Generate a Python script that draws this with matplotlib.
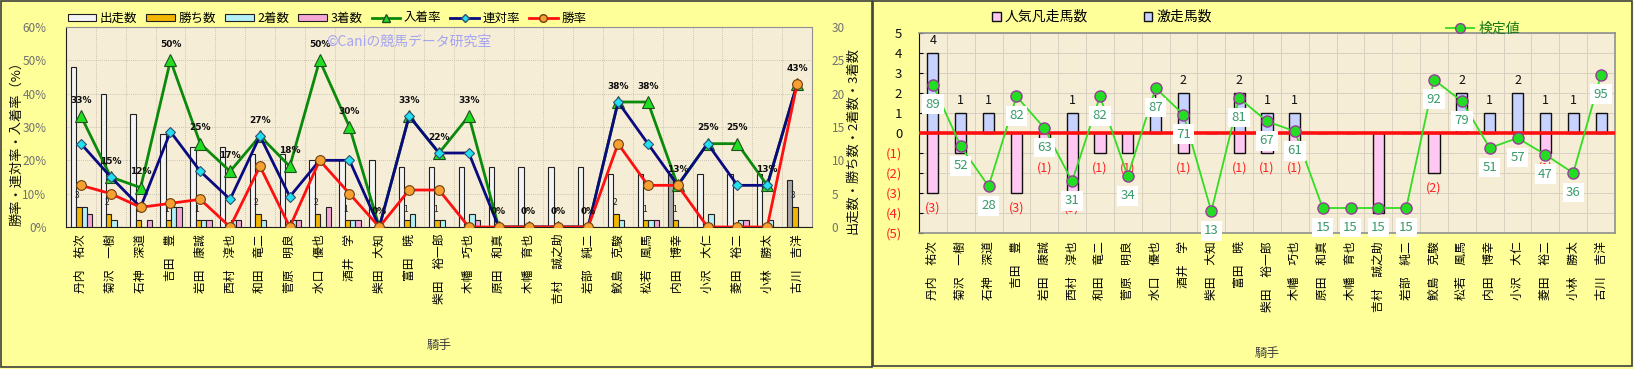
import matplotlib
matplotlib.use("Agg")
import matplotlib.pyplot as plt
from matplotlib.patches import Rectangle, Patch
from matplotlib.lines import Line2D
import numpy as np

plt.rcParams['font.family'] = ['Noto Sans CJK JP', 'DejaVu Sans']

# ---------------- data ----------------
jockeys = ["丹内　祐次", "菊沢　一樹", "石神　深道", "吉田　豊", "岩田　康誠", "西村　淳也",
           "和田　竜二", "菅原　明良", "水口　優也", "酒井　学", "柴田　大知", "富田　暁",
           "柴田　裕一郎", "木幡　巧也", "原田　和真", "木幡　育也", "吉村　誠之助", "岩部　純二",
           "鮫島　克駿", "松若　風馬", "内田　博幸", "小沢　大仁", "菱田　裕二", "小林　勝太",
           "古川　吉洋"]

runs    = [24, 20, 17, 14, 12, 12, 11, 11, 10, 10, 10, 9, 9, 9, 9, 9, 9, 9, 8, 8, 8, 8, 8, 8, 7]
wins    = [3, 2, 1, 1, 1, 0, 2, 0, 2, 1, 0, 1, 1, 0, 0, 0, 0, 0, 2, 1, 1, 0, 0, 0, 3]
seconds = [3, 1, 0, 3, 1, 1, 1, 1, 0, 1, 0, 2, 1, 2, 0, 0, 0, 0, 1, 1, 0, 2, 1, 1, 0]
thirds  = [2, 0, 1, 3, 1, 1, 0, 1, 3, 1, 0, 0, 0, 1, 0, 0, 0, 0, 0, 1, 0, 0, 1, 0, 0]
runs_highlight = [False]*20 + [True] + [False]*3 + [True]

win_rate  = [12.5, 10.0, 5.9, 7.1, 8.3, 0, 18.2, 0, 20.0, 10.0, 0, 11.1, 11.1, 0, 0, 0, 0, 0,
             25.0, 12.5, 12.5, 0, 0, 0, 42.9]
rentai    = [25.0, 15.0, 5.9, 28.6, 16.7, 8.3, 27.3, 9.1, 20.0, 20.0, 0, 33.3, 22.2, 22.2, 0, 0, 0, 0,
             37.5, 25.0, 12.5, 25.0, 12.5, 12.5, 42.9]
nyuchaku  = [33.3, 15.0, 11.8, 50.0, 25.0, 16.7, 27.3, 18.2, 50.0, 30.0, 0, 33.3, 22.2, 33.3, 0, 0, 0, 0,
             37.5, 37.5, 12.5, 25.0, 25.0, 12.5, 42.9]

gekiso = [4, 1, 1, 0, 0, 1, 0, 0, 1, 2, 0, 2, 1, 1, 0, 0, 0, 0, 0, 2, 1, 2, 1, 1, 1]
bonso  = [3, 1, 0, 3, 1, 3, 1, 1, 0, 1, 0, 1, 1, 1, 0, 0, 4, 0, 2, 0, 0, 0, 1, 0, 0]
kentei = [89, 52, 28, 82, 63, 31, 82, 34, 87, 71, 13, 81, 67, 61, 15, 15, 15, 15, 92, 79, 51, 57, 47, 36, 95]

left_pct_ticks = [0, 10, 20, 30, 40, 50, 60]
left_cnt_ticks = [0, 5, 10, 15, 20, 25, 30]
right_ticks = [-5, -4, -3, -2, -1, 0, 1, 2, 3, 4, 5]

# ---------------- figure ----------------
W, H = 1634, 369
fig = plt.figure(figsize=(W/100, H/100), dpi=100, facecolor='#FFFF99')

def fx(px): return px / W
def fy(py): return 1 - py / H

# panel borders
fig.add_artist(Rectangle((fx(1), fy(367)), fx(871), (366)/H, fill=False, ec='#404040', lw=1.2,
                         transform=fig.transFigure))
fig.add_artist(Rectangle((fx(873), fy(366)), fx(759), (365)/H, fill=False, ec='#404040', lw=1.2,
                         transform=fig.transFigure))

PLOT_BG = '#F6EDD6'
GRID_C = '#BDB5A5'
n = len(jockeys)
x = np.arange(n)

# ---------------- left chart ----------------
axb = fig.add_axes([fx(66), fy(227), fx(812 - 66), 200 / H])
axb.set_facecolor(PLOT_BG)
axl = axb.twinx()   # line axis (percent), drawn above the bars

bw = 0.18
offs = [-0.25, -0.07, 0.11, 0.29]
run_colors = ['#A9A9A9' if h else '#F4F4F4' for h in runs_highlight]
axb.bar(x + offs[0], runs, bw, color=run_colors, edgecolor='#202020', lw=0.8, zorder=3)
axb.bar(x + offs[1], wins, bw, color='#F2B600', edgecolor='#202020', lw=0.8, zorder=3)
axb.bar(x + offs[2], seconds, bw, color='#B4F0F8', edgecolor='#202020', lw=0.8, zorder=3)
axb.bar(x + offs[3], thirds, bw, color='#F4A6D4', edgecolor='#202020', lw=0.8, zorder=3)
for i, w in enumerate(wins):
    if w > 0:
        axb.annotate(str(w), (x[i] + offs[1], w), xytext=(-1, 8), textcoords='offset points',
                     ha='center', va='center', fontsize=6, color='#202020', zorder=4)
axb.set_xlim(-0.5, n - 0.5)
axb.set_ylim(0, 30)
axb.set_yticks(left_cnt_ticks)
axb.yaxis.tick_right()
axb.tick_params(axis='y', which='both', left=False, labelleft=False, right=True, labelright=True,
                length=0, labelsize=8.5, labelcolor='#707070', pad=14)
axb.set_xticks(x)
axb.set_xticklabels(jockeys, rotation=90, fontsize=8.5)
axb.tick_params(axis='x', length=0, pad=5)
axb.set_xticks(np.arange(-0.5, n, 1), minor=True)
axb.tick_params(axis='x', which='minor', length=0)
axb.grid(True, which='minor', axis='x', color=GRID_C, lw=0.6, ls=(0, (1, 1.5)), zorder=0)
axb.grid(True, which='major', axis='y', color=GRID_C, lw=0.6, ls=(0, (1, 1.5)), zorder=0)
axb.set_axisbelow(True)
for s in ['top', 'right']:
    axb.spines[s].set_color('#909090')
axb.spines['left'].set_color('#202020')
axb.spines['bottom'].set_color('#202020')

axl.set_ylim(0, 60)
axl.set_yticks(left_pct_ticks)
axl.set_yticklabels([f"{t}%" for t in left_pct_ticks])
axl.yaxis.tick_left()
axl.tick_params(axis='y', which='both', right=False, labelright=False, left=True, labelleft=True,
                length=0, labelsize=8.5, labelcolor='#707070', pad=14)
for s in axl.spines.values():
    s.set_visible(False)
axl.plot(x, nyuchaku, color='#0A8A0A', lw=2, marker='^', ms=8, mfc='#22DD22', mec='#205020',
         mew=0.8, zorder=3)
axl.plot(x, rentai, color='#0A0A80', lw=2, marker='D', ms=5.5, mfc='#22E0F0', mec='#305070',
         mew=0.8, zorder=4)
axl.plot(x, win_rate, color='#FF1010', lw=2, marker='o', ms=7, mfc='#F5A030', mec='#704010',
         mew=0.8, zorder=5)
for i, v in enumerate(nyuchaku):
    axl.annotate(f"{int(v + 0.5)}%", (x[i], v), xytext=(0, 11.5), textcoords='offset points',
                 ha='center', va='center', fontsize=6.5, fontweight='bold', color='#101010',
                 family=['DejaVu Sans'], zorder=6)

fig.text(fx(326), fy(42), "©Caniの競馬データ研究室", color='#A4A4F2', fontsize=10,
         ha='left', va='center')
fig.text(fx(17), fy(140), "勝率・連対率・入着率（%）", rotation=90, ha='center', va='center',
         fontsize=9.5, color='#101010')
fig.text(fx(853), fy(140), "出走数・勝ち数・2着数・3着数", rotation=90, ha='center', va='center',
         fontsize=9.5, color='#101010')
fig.text(fx(439), fy(346), "騎手", ha='center', va='center', fontsize=9, color='#404040')

lh = [Patch(facecolor='#F4F4F4', edgecolor='#202020', lw=0.8, label='出走数'),
      Patch(facecolor='#F2B600', edgecolor='#202020', lw=0.8, label='勝ち数'),
      Patch(facecolor='#B4F0F8', edgecolor='#202020', lw=0.8, label='2着数'),
      Patch(facecolor='#F4A6D4', edgecolor='#202020', lw=0.8, label='3着数'),
      Line2D([], [], color='#0A8A0A', lw=2, marker='^', ms=6, mfc='#22DD22', mec='#205020', label='入着率'),
      Line2D([], [], color='#0A0A80', lw=2, marker='D', ms=4.5, mfc='#22E0F0', mec='#305070', label='連対率'),
      Line2D([], [], color='#FF1010', lw=2, marker='o', ms=5.5, mfc='#F5A030', mec='#704010', label='勝率')]
fig.legend(handles=lh, loc='center', bbox_to_anchor=(fx(327), fy(18)), ncol=7, frameon=False,
           fontsize=9, handlelength=2.3, handleheight=0.5, handletextpad=0.3, columnspacing=0.7,
           borderpad=0)

# ---------------- right chart ----------------
ax2 = fig.add_axes([fx(919), fy(233), fx(1615 - 919), 200 / H])
ax2.set_facecolor(PLOT_BG)
ax2.bar(x, gekiso, 0.4, color='#C8D2FF', edgecolor='#101010', lw=1.0, zorder=3)
ax2.bar(x, [-b for b in bonso], 0.4, color='#FFC8F2', edgecolor='#101010', lw=1.0, zorder=3)
ax2.axhline(0, color='#FF1010', lw=2.6, zorder=4)
for i in range(n):
    if gekiso[i] > 0:
        ax2.annotate(str(gekiso[i]), (x[i], gekiso[i]), xytext=(0, 9), textcoords='offset points',
                     ha='center', va='center', fontsize=9, color='#101010', zorder=5)
    if bonso[i] > 0:
        ax2.annotate(f"({bonso[i]})", (x[i], -bonso[i]), xytext=(0, -11), textcoords='offset points',
                     ha='center', va='center', fontsize=9, color='#FF2020', zorder=5)
ax2.set_xlim(-0.5, n - 0.5)
ax2.set_ylim(-5, 5)
ax2.set_yticks(right_ticks)
ax2.set_yticklabels([str(t) if t >= 0 else f"({-t})" for t in right_ticks])
for lab, t in zip(ax2.get_yticklabels(), right_ticks):
    lab.set_color('#FF2020' if t < 0 else '#101010')
ax2.set_xticks(x)
ax2.set_xticklabels(jockeys, rotation=90, fontsize=8.5)
ax2.tick_params(axis='x', length=0, pad=6)
ax2.set_xticks(np.arange(-0.5, n, 1), minor=True)
ax2.tick_params(axis='x', which='minor', length=0)
ax2.grid(True, which='minor', axis='x', color='#D8D0C0', lw=0.7, zorder=0)
ax2.grid(True, which='major', axis='y', color='#D8D0C0', lw=0.7, zorder=0)
ax2.set_axisbelow(True)
for s in ['top', 'right', 'bottom']:
    ax2.spines[s].set_color('#909090')
    ax2.spines[s].set_linewidth(1.2)
ax2.spines['left'].set_color('#101010')

ax3 = ax2.twinx()
ax3.set_ylim(0, 120)
ax3.set_yticks([])
for s in ax3.spines.values():
    s.set_visible(False)
ax2.yaxis.tick_left()
ax2.tick_params(axis='y', length=3, direction='in', labelsize=9.5, pad=12)
ax3.plot(x, kentei, color='#33DD22', lw=1.3, marker='o', ms=8, mfc='#22DD22', mec='#9A3A9A',
         mew=1.0, zorder=3)
for i, v in enumerate(kentei):
    ax3.annotate(str(v), (x[i], v), xytext=(0, -14), textcoords='offset points', ha='center',
                 va='center', fontsize=9.5, color='#3A9A6A', zorder=4,
                 bbox=dict(boxstyle='square,pad=0.25', fc='white', ec='none'))

fig.text(fx(1267), fy(353), "騎手", ha='center', va='center', fontsize=9, color='#404040')

rh = [Patch(facecolor='#FFC8F2', edgecolor='#101010', lw=1.0, label='人気凡走馬数'),
      Patch(facecolor='#C8D2FF', edgecolor='#101010', lw=1.0, label='激走馬数')]
fig.legend(handles=rh, loc='center', bbox_to_anchor=(fx(1102), fy(17)), ncol=2, frameon=False,
           fontsize=10, handlelength=0.6, handleheight=0.6, handletextpad=0.3, columnspacing=4.0,
           borderpad=0)
kh = [Line2D([], [], color='#33DD22', lw=1.3, marker='o', ms=7, mfc='#22DD22', mec='#9A3A9A',
             label='検定値')]
leg3 = fig.legend(handles=kh, loc='center', bbox_to_anchor=(fx(1483), fy(29)), frameon=False,
                  fontsize=10, handlelength=2.0, handletextpad=0.3, borderpad=0)
for t in leg3.get_texts():
    t.set_color('#1A7A1A')

fig.savefig("out.png", dpi=100, facecolor=fig.get_facecolor())
